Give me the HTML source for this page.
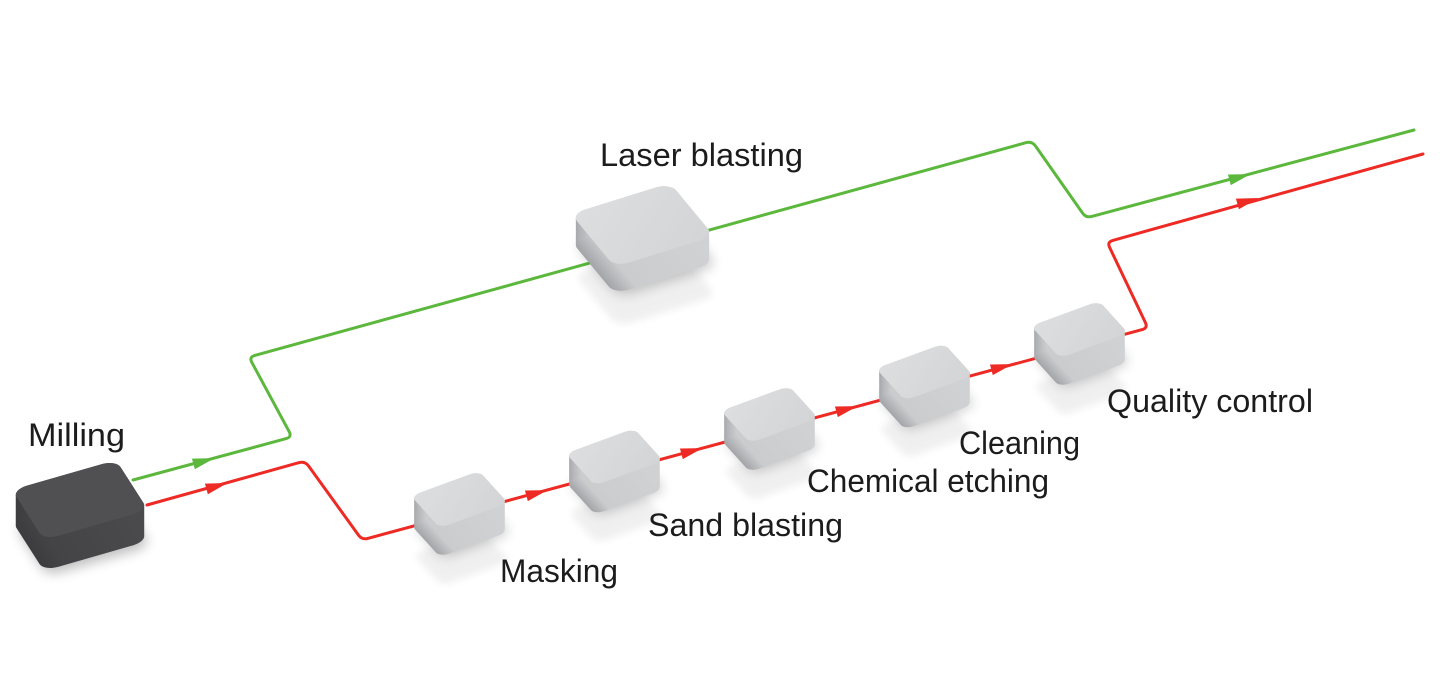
<!DOCTYPE html>
<html><head><meta charset="utf-8">
<style>
html,body{margin:0;padding:0;background:#fff;}
svg{display:block;}
text{font-family:"Liberation Sans",sans-serif;font-size:32px;fill:#1c1c1c;}
</style></head>
<body>
<svg width="1440" height="699" viewBox="0 0 1440 699" xmlns="http://www.w3.org/2000/svg">
<defs>
  <linearGradient id="sideL" x1="0" y1="0" x2="1" y2="0">
    <stop offset="0" stop-color="#a3a4a7"/>
    <stop offset="0.12" stop-color="#b9babd"/>
    <stop offset="0.22" stop-color="#cbccce"/>
    <stop offset="1" stop-color="#d0d1d3"/>
  </linearGradient>
  <linearGradient id="topL" x1="0" y1="0" x2="1" y2="1">
    <stop offset="0" stop-color="#dddee0"/>
    <stop offset="1" stop-color="#d3d4d6"/>
  </linearGradient>
  <linearGradient id="sideD" x1="0" y1="0" x2="1" y2="0">
    <stop offset="0" stop-color="#3c3c3e"/>
    <stop offset="0.2" stop-color="#444446"/>
    <stop offset="1" stop-color="#4a4a4c"/>
  </linearGradient>
  <filter id="bl" x="-50%" y="-50%" width="200%" height="200%"><feGaussianBlur stdDeviation="6"/></filter>
  <filter id="bl2" x="-50%" y="-50%" width="200%" height="200%"><feGaussianBlur stdDeviation="4"/></filter>

  <rect id="u" x="0" y="0" width="1" height="1" rx="0.14" ry="0.14"/>

  <!-- small box chain -->
  <g id="s1"><use href="#u" transform="matrix(68,-25,29,32,0,0)"/></g>
  <g id="s2"><use href="#s1"/><use href="#s1" y="1"/></g>
  <g id="s4"><use href="#s2"/><use href="#s2" y="2"/></g>
  <g id="s8"><use href="#s4"/><use href="#s4" y="4"/></g>
  <g id="s16"><use href="#s8"/><use href="#s8" y="8"/></g>
  <g id="s30"><use href="#s16"/><use href="#s8" y="16"/><use href="#s4" y="24"/><use href="#s2" y="28"/></g>

  <!-- big box chain -->
  <g id="b1"><use href="#u" transform="matrix(99,-31,44,53,0,0)"/></g>
  <g id="b2"><use href="#b1"/><use href="#b1" y="1"/></g>
  <g id="b4"><use href="#b2"/><use href="#b2" y="2"/></g>
  <g id="b8"><use href="#b4"/><use href="#b4" y="4"/></g>
  <g id="b16"><use href="#b8"/><use href="#b8" y="8"/></g>
  <g id="b28"><use href="#b16"/><use href="#b8" y="16"/><use href="#b4" y="24"/></g>

  <!-- milling box chain -->
  <g id="m1"><use href="#u" transform="matrix(104,-30,32,50,0,0)"/></g>
  <g id="m2"><use href="#m1"/><use href="#m1" y="1"/></g>
  <g id="m4"><use href="#m2"/><use href="#m2" y="2"/></g>
  <g id="m8"><use href="#m4"/><use href="#m4" y="4"/></g>
  <g id="m16"><use href="#m8"/><use href="#m8" y="8"/></g>
  <g id="m32"><use href="#m16"/><use href="#m16" y="16"/></g>

  <g id="smallbox">
    <use href="#s1" fill="#000" opacity="0.06" filter="url(#bl2)" transform="translate(2,58)"/>
    <use href="#s1" fill="#000" opacity="0.2" filter="url(#bl)" transform="translate(3,30)"/>
    <use href="#s30" fill="url(#sideL)"/>
    <use href="#s1" fill="url(#topL)"/>
  </g>
</defs>

<!-- connectors -->
<path d="M133,480 L286.2,438.6 Q292,437 289.2,431.7 L251.8,362.3 Q249,357 254.8,355.4 L1026.2,142.6 Q1032,141 1035.4,145.9 L1082.6,213.1 Q1086,218 1091.8,216.4 L1414,130"
      fill="none" stroke="#5cb83d" stroke-width="3" stroke-linejoin="round" stroke-linecap="round"/>
<path d="M147,505 L299.2,462.6 Q305,461 308.5,465.9 L358.5,535.1 Q362,540 367.8,538.4 L1142.2,329.6 Q1148,328 1145.4,322.6 L1109.6,247.4 Q1107,242 1112.8,240.4 L1423,154"
      fill="none" stroke="#ee2a24" stroke-width="3" stroke-linejoin="round" stroke-linecap="round"/>

<!-- arrows -->
<g fill="#5cb83d">
  <polygon points="-11,-5.5 11,0 -11,5.5" transform="translate(204,461) rotate(-15.2)"/>
  <polygon points="-11,-5.5 11,0 -11,5.5" transform="translate(1240,177) rotate(-15)"/>
</g>
<g fill="#ee2a24">
  <polygon points="-11,-5.5 11,0 -11,5.5" transform="translate(217,486) rotate(-15.5)"/>
  <polygon points="-11,-5.5 11,0 -11,5.5" transform="translate(537,493) rotate(-15.1)"/>
  <polygon points="-11,-5.5 11,0 -11,5.5" transform="translate(692,451) rotate(-15.1)"/>
  <polygon points="-11,-5.5 11,0 -11,5.5" transform="translate(847,409) rotate(-15.1)"/>
  <polygon points="-11,-5.5 11,0 -11,5.5" transform="translate(1002,367) rotate(-15.1)"/>
  <polygon points="-11,-5.5 11,0 -11,5.5" transform="translate(1248,201) rotate(-15.5)"/>
</g>

<!-- milling box (dark) -->
<g transform="translate(12,490)">
  <use href="#m1" fill="#000" opacity="0.25" filter="url(#bl)" transform="translate(3,36)"/>
  <use href="#m32" fill="url(#sideD)"/>
  <use href="#m1" fill="#505052"/>
</g>

<!-- laser blasting box -->
<g transform="translate(571,214)">
  <use href="#b1" fill="#000" opacity="0.06" filter="url(#bl2)" transform="translate(3,60)"/>
  <use href="#b1" fill="#000" opacity="0.2" filter="url(#bl)" transform="translate(4,30)"/>
  <use href="#b28" fill="url(#sideL)"/>
  <use href="#b1" fill="url(#topL)"/>
</g>

<!-- small boxes -->
<use href="#smallbox" transform="translate(411,496)"/>
<use href="#smallbox" transform="translate(566,453.5)"/>
<use href="#smallbox" transform="translate(721,411)"/>
<use href="#smallbox" transform="translate(876,368.5)"/>
<use href="#smallbox" transform="translate(1031,326)"/>

<!-- labels -->
<text x="600" y="166" textLength="203" lengthAdjust="spacingAndGlyphs">Laser blasting</text>
<text x="28" y="446" textLength="97" lengthAdjust="spacingAndGlyphs">Milling</text>
<text x="1107" y="412" textLength="206" lengthAdjust="spacingAndGlyphs">Quality control</text>
<text x="959" y="454" textLength="121" lengthAdjust="spacingAndGlyphs">Cleaning</text>
<text x="807" y="492" textLength="242" lengthAdjust="spacingAndGlyphs">Chemical etching</text>
<text x="648" y="536" textLength="195" lengthAdjust="spacingAndGlyphs">Sand blasting</text>
<text x="500" y="582" textLength="118" lengthAdjust="spacingAndGlyphs">Masking</text>
</svg>
</body></html>
